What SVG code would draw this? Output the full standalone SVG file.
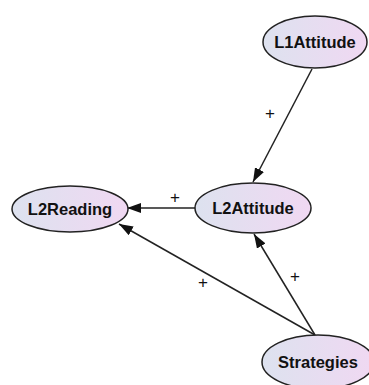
<svg xmlns="http://www.w3.org/2000/svg" width="369" height="385" viewBox="0 0 369 385">
<defs>
<linearGradient id="g" x1="0" y1="0" x2="1" y2="0">
<stop offset="0" stop-color="#dde2ef"/>
<stop offset="1" stop-color="#f0d8f2"/>
</linearGradient>
<marker id="arrb" viewBox="0 0 14 10" refX="14" refY="5" markerWidth="14" markerHeight="10" markerUnits="userSpaceOnUse" orient="auto">
<path d="M0,0 L14,5 L0,10 Z" fill="#111"/>
</marker>
</defs>
<style>
.n ellipse{fill:url(#g);stroke:#222;stroke-width:1.5}
.n text{font-family:"Liberation Sans",Arial,sans-serif;font-weight:bold;font-size:16.5px;fill:#111;text-anchor:middle}
.e line{stroke:#222;stroke-width:1.5;marker-end:url(#arrb)}
.l{font-family:"Liberation Sans",Arial,sans-serif;font-size:17px;fill:#111;text-anchor:middle}
</style>
<g id="edges" class="e">
<line x1="312" y1="69" x2="253" y2="182"/>
<line x1="195" y1="208" x2="127" y2="208"/>
<line x1="315" y1="335" x2="119" y2="224"/>
<line x1="315" y1="335" x2="254" y2="234"/>
</g>
<g id="labels">
<text class="l" x="270" y="119">+</text>
<text class="l" x="175" y="203">+</text>
<text class="l" x="203" y="288">+</text>
<text class="l" x="295" y="282">+</text>
</g>
<g id="L1Attitude" class="n"><ellipse cx="315" cy="42" rx="52" ry="26"/><text x="315" y="48">L1Attitude</text></g>
<g id="L2Reading" class="n"><ellipse cx="70" cy="209" rx="58" ry="23"/><text x="70" y="215">L2Reading</text></g>
<g id="L2Attitude" class="n"><ellipse cx="253" cy="208" rx="58" ry="25"/><text x="253" y="214">L2Attitude</text></g>
<g id="Strategies" class="n"><ellipse cx="318" cy="362" rx="56" ry="27"/><text x="318" y="368">Strategies</text></g>
</svg>
